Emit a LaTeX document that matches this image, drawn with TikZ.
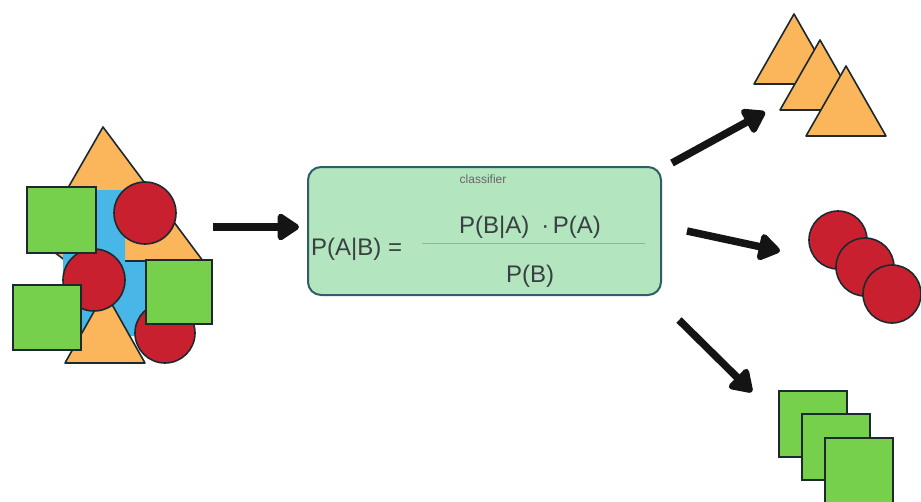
\documentclass[tikz,border=0pt]{standalone}
\usepackage{fontspec}
\setmainfont{Liberation Sans}
\usetikzlibrary{arrows.meta}

\definecolor{shOrange}{HTML}{FBB55A}
\definecolor{shRed}{HTML}{C8202F}
\definecolor{shGreen}{HTML}{77D04C}
\definecolor{shBlue}{HTML}{48B6E6}
\definecolor{shEdge}{HTML}{1C2A30}
\definecolor{boxFill}{HTML}{B3E6BF}
\definecolor{boxEdge}{HTML}{2D5E6A}
\definecolor{txtDark}{HTML}{3A3F42}

\tikzset{
  tri/.style={fill=shOrange, draw=shEdge, line width=1.6pt, line join=round},
  disc/.style={circle, fill=shRed, draw=shEdge, line width=1.6pt, minimum size=#1, inner sep=0pt},
  sq/.style={fill=shGreen, draw=shEdge, line width=1.6pt},
  bigarrow/.style={draw=black!92, line width=7.5pt,
    -{Triangle[length=24pt,width=30pt,round]}},
  formula/.style={font=\fontsize{24}{28}\selectfont, text=txtDark, inner sep=0pt},
}

\begin{document}
\begin{tikzpicture}[x=1pt,y=-1pt]
\useasboundingbox (0,0) rectangle (921,501);

% ---- mixed input set ----
\draw[tri] (103,127) -- (203,261) -- (66,261) -- (38,240) -- cycle;
\fill[shBlue] (63,190) -- (125,190) -- (125,262) -- (148,262) -- (148,336) -- (63,336) -- cycle;
\draw[tri] (105,292) -- (145,363) -- (65,363) -- cycle;
\node[disc=62pt] (c1) at (145,213) {};
\node[disc=62pt] (c2) at (94,280) {};
\node[disc=60pt] (c3) at (165,333) {};
\draw[sq] (27,187) rectangle (96,253);
\draw[sq] (13,285) rectangle (81,350);
\draw[sq] (146,260) rectangle (212,324);

% ---- classifier box ----
\node[draw=boxEdge, fill=boxFill, line width=2pt, rounded corners=13pt,
      minimum width=353pt, minimum height=128pt, inner sep=0pt] (box) at (484.5,231) {};
\node[font=\fontsize{12}{14}\selectfont, text=black!60, inner sep=0pt] (lbl) at (483,179) {classifier};
\node[formula, anchor=west] (lhs) at (311,249) {P(A|B) =};
\node[formula] (num) at (530,227) {P(B|A)\hspace{0.5em}·\hspace{0.15em}P(A)};
\node[formula] (den) at (530,276) {P(B)};
\coordinate (barL) at (422,243);
\coordinate (barR) at (645,243);
\draw[black!35, line width=0.8pt] (barL) -- (barR);

% ---- output: triangles ----
\draw[tri] (794,14) -- (834,84) -- (754,84) -- cycle;
\draw[tri] (820,40) -- (860,110) -- (780,110) -- cycle;
\draw[tri] (846,66) -- (886,136) -- (806,136) -- cycle;

% ---- output: circles ----
\node[disc=58pt] (o1) at (838,240) {};
\node[disc=58pt] (o2) at (865,267) {};
\node[disc=58pt] (o3) at (892,294) {};

% ---- output: squares ----
\draw[sq] (779,391) rectangle (847,457);
\draw[sq] (802,414) rectangle (870,480);
\draw[sq] (825,438) rectangle (893,510);

% ---- arrows ----
\coordinate (inTail) at (213,227);
\coordinate (inTip) at (299,227);
\coordinate (triTail) at (672,163);
\coordinate (triTip) at (765,112);
\coordinate (cirTail) at (687,231);
\coordinate (cirTip) at (780,251);
\coordinate (sqTail) at (679,320);
\coordinate (sqTip) at (752,392);
\draw[bigarrow] (inTail) -- (inTip);
\draw[bigarrow] (triTail) -- (triTip);
\draw[bigarrow] (cirTail) -- (cirTip);
\draw[bigarrow] (sqTail) -- (sqTip);
\end{tikzpicture}
\end{document}
